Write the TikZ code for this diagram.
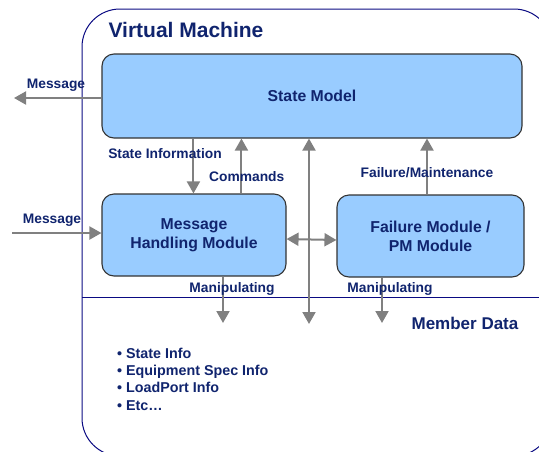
\documentclass[tikz,border=0pt]{standalone}
\usepackage{fontspec}
\setmainfont{Liberation Sans}
\usepackage{tikz}
\usetikzlibrary{arrows.meta,positioning,calc}
\definecolor{vmnavy}{RGB}{16,36,110}
\definecolor{vmline}{RGB}{10,10,130}
\definecolor{vmfill}{RGB}{153,204,255}
\definecolor{vmgray}{RGB}{128,128,128}

\begin{document}
\begin{tikzpicture}[
  x=1pt, y=-1pt,
  module/.style={draw=black!80, line width=1.1pt, rounded corners=12pt,
               fill=vmfill, text=vmnavy, align=center,
               font=\bfseries\fontsize{15.8}{19}\selectfont},
  lbl/.style={text=vmnavy, font=\bfseries\fontsize{13.8}{16}\selectfont, inner sep=0pt},
  arr/.style={-{Triangle[length=12pt,width=13pt]}, draw=vmgray, line width=2pt},
  dblarr/.style={{Triangle[length=12pt,width=13pt]}-{Triangle[length=12pt,width=13pt]},
               draw=vmgray, line width=2pt},
  border/.style={draw=vmline, line width=1pt}
]
\useasboundingbox (0,0) rectangle (539,451);
\clip (0,0) rectangle (539,451);

% virtual machine frame
\draw[border, rounded corners=38pt] (82,9) rectangle (552,456);
\draw[border] (82,297) -- (539,297);
\node[text=vmnavy, font=\bfseries\fontsize{21}{24}\selectfont] (title) at (186,30) {Virtual Machine};

% modules
\node[module, minimum width=420pt, minimum height=84pt] (sm) at (312,96) {State Model};
\node[module, minimum width=184pt, minimum height=82pt] (mhm) at (194,235) {Message\\Handling Module};
\node[module, minimum width=187pt, minimum height=82pt] (fm) at (430.5,236) {Failure Module /\\PM Module};

% free ends
\coordinate (msgout) at (14,98);
\coordinate (msgin) at (12,233);
\coordinate (datamid) at (309,324);
\coordinate (dataleft) at (223,323);
\coordinate (dataright) at (382,323);

\draw[arr] (sm.west |- msgout) -- (msgout);
\draw[arr] (msgin) -- (mhm.west |- msgin);
\draw[arr] ([xshift=92pt]sm.south west) -- ([xshift=92pt]mhm.north west);
\draw[arr] ([xshift=140pt]mhm.north west) -- ([xshift=140pt]sm.south west);
\draw[arr] ([xshift=-3.5pt]fm.north) -- ([xshift=-3.5pt]fm.north |- sm.south);
\draw[dblarr] ([yshift=-4pt]mhm.east) -- ([yshift=-4pt]fm.west);
\draw[dblarr] (sm.south -| datamid) -- (datamid);
\draw[arr] (mhm.south -| dataleft) -- (dataleft);
\draw[arr] (fm.south -| dataright) -- (dataright);

% labels
\node[lbl] (lmsgout) at (56,85) {Message};
\node[lbl] (lmsgin) at (52,220) {Message};
\node[lbl] (lstate) at (165,154) {State Information};
\node[lbl, anchor=west] (lcmd) at (209,177) {Commands};
\node[lbl] (lfail) at (427,173) {Failure/Maintenance};
\node[lbl] (lmanl) at (232,289) {Manipulating};
\node[lbl] (lmanr) at (390,289) {Manipulating};
\node[text=vmnavy, font=\bfseries\fontsize{17}{20}\selectfont] (member) at (465,323) {Member Data};

\node[lbl, anchor=north west, align=left, font=\bfseries\fontsize{14.3}{17.2}\selectfont]
  (items) at (117,348) {• State Info\\• Equipment Spec Info\\• LoadPort Info\\• Etc…};
\end{tikzpicture}
\end{document}
